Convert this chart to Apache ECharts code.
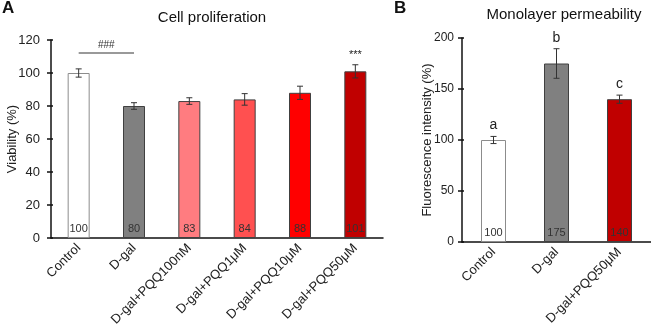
<!DOCTYPE html>
<html><head><meta charset="utf-8">
<script src="https://cdn.jsdelivr.net/npm/echarts@6/dist/echarts.min.js"></script>
<style>html,body{margin:0;padding:0;background:#fff}#c{width:651px;height:334px}</style>
</head><body><div id="c"></div>
<script>
// Panel A data
const catsA = ['Control','D-gal','D-gal+PQQ100nM','D-gal+PQQ1μM','D-gal+PQQ10μM','D-gal+PQQ50μM'];
const valsA = [100, 80, 83, 84, 88, 101];
const errA = [2.5, 2, 2, 3.5, 4, 4];
const sigA = ['', '', '', '', '', '***'];
const bracketA = {from: 'Control', to: 'D-gal', y: 112, text: '###'};
const ticksA = {min: 0, max: 120, interval: 20};
// Panel B data
const catsB = ['Control','D-gal','D-gal+PQQ50μM'];
const valsB = [100, 175, 140];
const errB = [3.5, 14.5, 4];
const lettersB = ['a', 'b', 'c'];
const ticksB = {min: 0, max: 200, interval: 50};

const colorsA = ['#ffffff','#808080','#ff7c80','#ff5050','#ff0000','#c00000'];
const colorsB = ['#ffffff','#808080','#c00000'];
const FONT = 'Liberation Sans, Arial, sans-serif';

function barData(vals, colors) {
  return vals.map((v, i) => ({
    value: v,
    itemStyle: {color: colors[i], borderColor: i === 0 ? '#8c8c8c' : '#404040', borderWidth: 1}
  }));
}
function errSeries(xi, yi, vals, errs, labels, fs) {
  return {
    type: 'custom', xAxisIndex: xi, yAxisIndex: yi, z: 5,
    data: vals.map((v, i) => [i, v, errs[i]]),
    renderItem: function (params, api) {
      const i = api.value(0), v = api.value(1), e = api.value(2);
      const top = api.coord([i, v + e]);
      const bot = api.coord([i, v - e]);
      const w = 3;
      const st = {stroke: '#333', lineWidth: 1};
      const children = [
        {type: 'line', shape: {x1: top[0], y1: top[1], x2: bot[0], y2: bot[1]}, style: st},
        {type: 'line', shape: {x1: top[0]-w, y1: top[1], x2: top[0]+w, y2: top[1]}, style: st},
        {type: 'line', shape: {x1: bot[0]-w, y1: bot[1], x2: bot[0]+w, y2: bot[1]}, style: st}
      ];
      const lab = labels[params.dataIndex];
      if (lab) {
        children.push({type: 'text', style: {text: lab, x: top[0], y: top[1] - 4,
          align: 'center', verticalAlign: 'bottom', fill: '#222', font: fs + 'px ' + FONT}});
      }
      return {type: 'group', children: children};
    }
  };
}
const axisLineStyle = {color: '#111', width: 1.5};
function xAxes(cats, gi) {
  return [
    {type: 'category', gridIndex: gi, data: cats, boundaryGap: true,
     axisLine: {lineStyle: axisLineStyle}, axisTick: {length: 4, lineStyle: axisLineStyle},
     axisLabel: {rotate: 45, fontSize: 13, color: '#222', fontFamily: FONT, margin: 8, interval: 0}},
    {type: 'category', gridIndex: gi, data: cats, boundaryGap: true, position: 'bottom',
     axisLine: {show: false}, axisTick: {inside: true, length: 4, lineStyle: axisLineStyle},
     axisLabel: {show: false}}
  ];
}
function yAxes(t, gi, name, gap, margin, fs) {
  return [
    {type: 'value', gridIndex: gi, min: t.min, max: t.max, interval: t.interval,
     name: name, nameLocation: 'middle', nameGap: gap, nameMoveOverlap: false,
     nameTextStyle: {fontSize: 13, color: '#222', fontFamily: FONT},
     axisLine: {show: true, lineStyle: axisLineStyle}, axisTick: {show: true, length: 4, lineStyle: axisLineStyle},
     splitLine: {show: false}, axisLabel: {fontSize: fs, color: '#222', fontFamily: FONT, margin: margin}},
    {type: 'value', gridIndex: gi, min: t.min, max: t.max, interval: t.interval, position: 'left',
     axisLine: {show: false}, axisTick: {show: true, inside: true, length: 2, lineStyle: axisLineStyle},
     splitLine: {show: false}, axisLabel: {show: false}}
  ];
}

const chart = echarts.init(document.getElementById('c'), null, {renderer: 'canvas'});
chart.setOption({
  animation: false,
  backgroundColor: '#fff',
  title: [
    {text: 'Cell proliferation', left: 207, top: 5, textAlign: 'center',
     textStyle: {fontSize: 15, fontWeight: 'normal', color: '#111', fontFamily: FONT}},
    {text: 'Monolayer permeability', left: 559, top: 2, textAlign: 'center',
     textStyle: {fontSize: 15, fontWeight: 'normal', color: '#111', fontFamily: FONT}}
  ],
  graphic: [
    {type: 'text', left: 2, top: 0, style: {text: 'A', font: 'bold 17px ' + FONT, fill: '#111'}},
    {type: 'text', left: 394, top: 0, style: {text: 'B', font: 'bold 17px ' + FONT, fill: '#111'}}
  ],
  grid: [
    {left: 51, top: 40, width: 332, height: 198, containLabel: false, outerBoundsMode: 'none'},
    {left: 462, top: 38, width: 189, height: 204, containLabel: false, outerBoundsMode: 'none'}
  ],
  xAxis: [...xAxes(catsA, 0), ...xAxes(catsB, 1)],
  yAxis: [...yAxes(ticksA, 0, 'Viability (%)', 32, 11, 13), ...yAxes(ticksB, 1, 'Fluorescence intensity (%)', 28, 8, 12)],
  series: [
    {type: 'bar', xAxisIndex: 0, yAxisIndex: 0, barWidth: 22, data: barData(valsA, colorsA),
     label: {show: true, position: 'insideBottom', distance: 4, fontSize: 11, color: '#333', fontFamily: FONT},
     markLine: {symbol: 'none', silent: true,
       lineStyle: {color: '#777', width: 1.5, type: 'solid'},
       label: {show: true, position: 'middle', formatter: bracketA.text, fontSize: 10, color: '#333', distance: 3},
       data: [[{coord: [bracketA.from, bracketA.y]}, {coord: [bracketA.to, bracketA.y]}]]}},
    errSeries(0, 0, valsA, errA, sigA, 11),
    {type: 'bar', xAxisIndex: 2, yAxisIndex: 2, barWidth: 25, data: barData(valsB, colorsB),
     label: {show: true, position: 'insideBottom', distance: 4, fontSize: 11, color: '#333', fontFamily: FONT}},
    errSeries(2, 2, valsB, errB, lettersB, 14)
  ]
});
</script></body></html>
